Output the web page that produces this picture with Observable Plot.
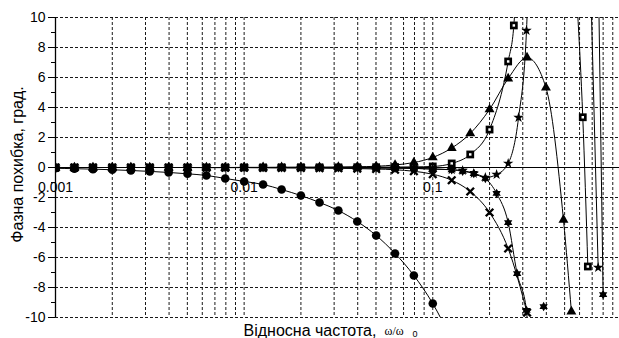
<!DOCTYPE html>
<html><head><meta charset="utf-8">
<script src="https://cdn.jsdelivr.net/npm/d3@7"></script>
<script src="https://cdn.jsdelivr.net/npm/@observablehq/plot@0.6"></script>
<style>html,body{margin:0;padding:0;background:#fff;}</style>
</head><body><div id="chart"></div>
<script>
// ---- axis / tick data ----
const yTicks = [-10,-8,-6,-4,-2,0,2,4,6,8,10];
const yMinor = [-9,-7,-5,-3,-1,1,3,5,7,9];
const yGrid = [-10,-8,-6,-4,-2,2,4,6,8,10];
const xGrid = [0.002,0.003,0.004,0.005,0.006,0.007,0.008,0.009,0.01,0.02,0.03,0.04,0.05,0.06,0.07,0.08,0.09,0.1,0.2,0.3,0.4,0.5,0.6,0.7,0.8,0.9];
const xTickLabels = [0.001, 0.01, 0.1];
const yLabel = "Фазна похибка, град.";
const xLabel = "Відносна частота,";
const xLabelUnit = "ω/ω";
const xLabelSub = "0";

// ---- series (relative frequency, phase error in degrees) ----
const circleF = [0.001,0.00126,0.00158,0.002,0.00251,0.00316,0.00398,0.00501,0.00631,0.00794,0.01,0.0126,0.0158,0.02,0.0251,0.0316,0.0398,0.0501,0.0631,0.0794,0.1,0.126];
const circleV = [-0.05,-0.08,-0.11,-0.15,-0.2,-0.26,-0.33,-0.42,-0.53,-0.73,-0.93,-1.13,-1.47,-1.87,-2.33,-2.87,-3.6,-4.53,-5.73,-7.2,-9.07,-11.5];

const crossF = [0.001,0.00126,0.00158,0.002,0.00251,0.00316,0.00398,0.00501,0.00631,0.00794,0.01,0.0126,0.0158,0.02,0.0251,0.0316,0.0398,0.0501,0.0631,0.0794,0.1,0.126,0.158,0.2,0.251,0.316];
const crossV = [0,0,0,0,0,0,0,0,-0.01,-0.01,-0.01,-0.02,-0.02,-0.03,-0.04,-0.05,-0.07,-0.1,-0.15,-0.25,-0.45,-0.85,-1.6,-3.0,-5.4,-9.67];

const triF = [0.001,0.00126,0.00158,0.002,0.00251,0.00316,0.00398,0.00501,0.00631,0.00794,0.01,0.0126,0.0158,0.02,0.0251,0.0316,0.0398,0.0501,0.0631,0.0794,0.1,0.126,0.158,0.2,0.251,0.316,0.398,0.493,0.543];
const triV = [0,0,0,0,0,0,0,0,0,0,0.01,0.01,0.01,0.02,0.02,0.03,0.05,0.08,0.17,0.33,0.67,1.3,2.27,3.87,5.93,7.33,5.33,-3.49,-9.6];

const sqF = [0.001,0.00126,0.00158,0.002,0.00251,0.00316,0.00398,0.00501,0.00631,0.00794,0.01,0.0126,0.0158,0.02,0.0251,0.0316,0.0398,0.0501,0.0631,0.0794,0.1,0.126,0.158,0.2,0.251,0.269,0.285,0.4,0.585,0.624,0.664];
const sqV = [0,0,0,0,0,0,0,0,0,0,0,0,0.01,0.01,0.01,0.01,0.02,0.02,0.03,0.04,0.07,0.27,0.87,2.53,7.07,9.47,16,NaN,10.5,3.35,-6.6];

const starF = [0.001,0.00126,0.00158,0.002,0.00251,0.00316,0.00398,0.00501,0.00631,0.00794,0.01,0.0126,0.0158,0.02,0.0251,0.0316,0.0398,0.0501,0.0631,0.0794,0.1,0.126,0.144,0.165,0.19,0.218,0.251,0.285,0.314,0.33,0.5,0.693,0.753];
const starV = [0,0,0,0,0,0,0,0,0,0,0,0,-0.01,-0.01,-0.01,-0.02,-0.02,-0.03,-0.04,-0.06,-0.1,-0.15,-0.2,-0.4,-0.67,-0.47,0.27,3.33,9.13,20,NaN,10.5,-6.67];

const hexF = [0.001,0.00126,0.00158,0.002,0.00251,0.00316,0.00398,0.00501,0.00631,0.00794,0.01,0.0126,0.0158,0.02,0.0251,0.0316,0.0398,0.0501,0.0631,0.0794,0.1,0.126,0.144,0.165,0.19,0.218,0.251,0.28,0.314,0.33,0.35,0.387,0.45,0.76,0.8];
const hexV = [0,0,0,0,0,0,0,0,0,0,0,0,-0.01,-0.01,-0.01,-0.02,-0.02,-0.03,-0.04,-0.06,-0.1,-0.15,-0.25,-0.4,-0.73,-1.73,-3.67,-7.07,-9.53,-20,NaN,-9.27,NaN,10.5,-8.47];

// ---- build table ----
const series = [
  {name: "circle", f: circleF, v: circleV},
  {name: "cross", f: crossF, v: crossV},
  {name: "tri", f: triF, v: triV},
  {name: "sq", f: sqF, v: sqV},
  {name: "star", f: starF, v: starV},
  {name: "hex", f: hexF, v: hexV}
];
const rows = series.flatMap(s => s.f.map((f, i) => ({s: s.name, f, v: s.v[i]})));
const of = name => rows.filter(d => d.s === name);

const hexagram = {
  draw(ctx, size) {
    const R = Math.sqrt(size / Math.PI) * 1.3, r = R / Math.sqrt(3);
    for (let i = 0; i < 12; i++) {
      const a = -Math.PI / 2 + i * Math.PI / 6, rr = i % 2 === 0 ? R : r;
      const x = rr * Math.cos(a), y = rr * Math.sin(a);
      if (i) ctx.lineTo(x, y); else ctx.moveTo(x, y);
    }
    ctx.closePath();
  }
};

const gridStyle = {stroke: "#000", strokeOpacity: 0.9, strokeWidth: 1, strokeDasharray: "3,2"};
const font = "'Liberation Sans', Arial, sans-serif";

const chart = Plot.plot({
  width: 619,
  height: 338,
  marginLeft: 55,
  marginRight: 0,
  marginTop: 17,
  marginBottom: 21,
  style: {fontFamily: font, fontSize: "14px", background: "#fff", color: "#000"},
  x: {type: "log", domain: [0.001, 0.977], axis: null, label: null},
  y: {domain: [-10, 10], axis: null, label: null},
  marks: [
    Plot.ruleX(xGrid, gridStyle),
    Plot.ruleY(yGrid, gridStyle),
    Plot.ruleY([0], {stroke: "#000", strokeWidth: 1}),
    Plot.ruleX([0.001], {stroke: "#000", strokeWidth: 1.3}),
    Plot.axisY({ticks: yTicks, tickSize: 7, tickPadding: 3, tickFormat: d => String(d), fontSize: 14, label: null}),
    Plot.axisY({ticks: yMinor, tickSize: 4, tickFormat: () => "", label: null}),
    Plot.text(xTickLabels, {x: d => d, y: 0, text: d => String(d), dy: 20, fontSize: 14}),
    Plot.text([yLabel], {frameAnchor: "left", dx: -38, dy: -3, rotate: -90, textAnchor: "middle", lineAnchor: "middle", fontSize: 16}),
    Plot.text([xLabel], {frameAnchor: "bottom-left", dx: 188, dy: 18, textAnchor: "start", lineAnchor: "bottom", fontSize: 16}),
    Plot.text([xLabelUnit], {frameAnchor: "bottom-left", dx: 329, dy: 17, textAnchor: "start", lineAnchor: "bottom", fontSize: 12, fontFamily: "'Liberation Serif', serif", letterSpacing: 1.5}),
    Plot.text([xLabelSub], {frameAnchor: "bottom-left", dx: 357, dy: 19, textAnchor: "start", lineAnchor: "bottom", fontSize: 9}),
    Plot.line(rows, {x: "f", y: "v", z: "s", curve: "monotone-x", stroke: "#000", strokeWidth: 1, clip: true}),
    Plot.dot(of("circle"), {x: "f", y: "v", symbol: "circle", r: 4.3, fill: "#000", clip: true}),
    Plot.dot(of("tri"), {x: "f", y: "v", symbol: "triangle", r: 3.7, fill: "#000", clip: true}),
    Plot.dot(of("sq"), {x: "f", y: "v", symbol: "square", r: 4.4, fill: "#000", clip: true}),
    Plot.dot(of("sq"), {x: "f", y: "v", symbol: "square", r: 1.4, fill: "#fff", clip: true}),
    Plot.dot(of("star"), {x: "f", y: "v", symbol: "star", r: 3.3, fill: "#000", clip: true}),
    Plot.dot(of("hex"), {x: "f", y: "v", symbol: hexagram, r: 3.7, fill: "#000", clip: true}),
    Plot.dot(of("cross"), {x: "f", y: "v", symbol: "times", r: 3.5, stroke: "#000", strokeWidth: 2.4, clip: true})
  ]
});
document.getElementById("chart").appendChild(chart);
</script></body></html>
